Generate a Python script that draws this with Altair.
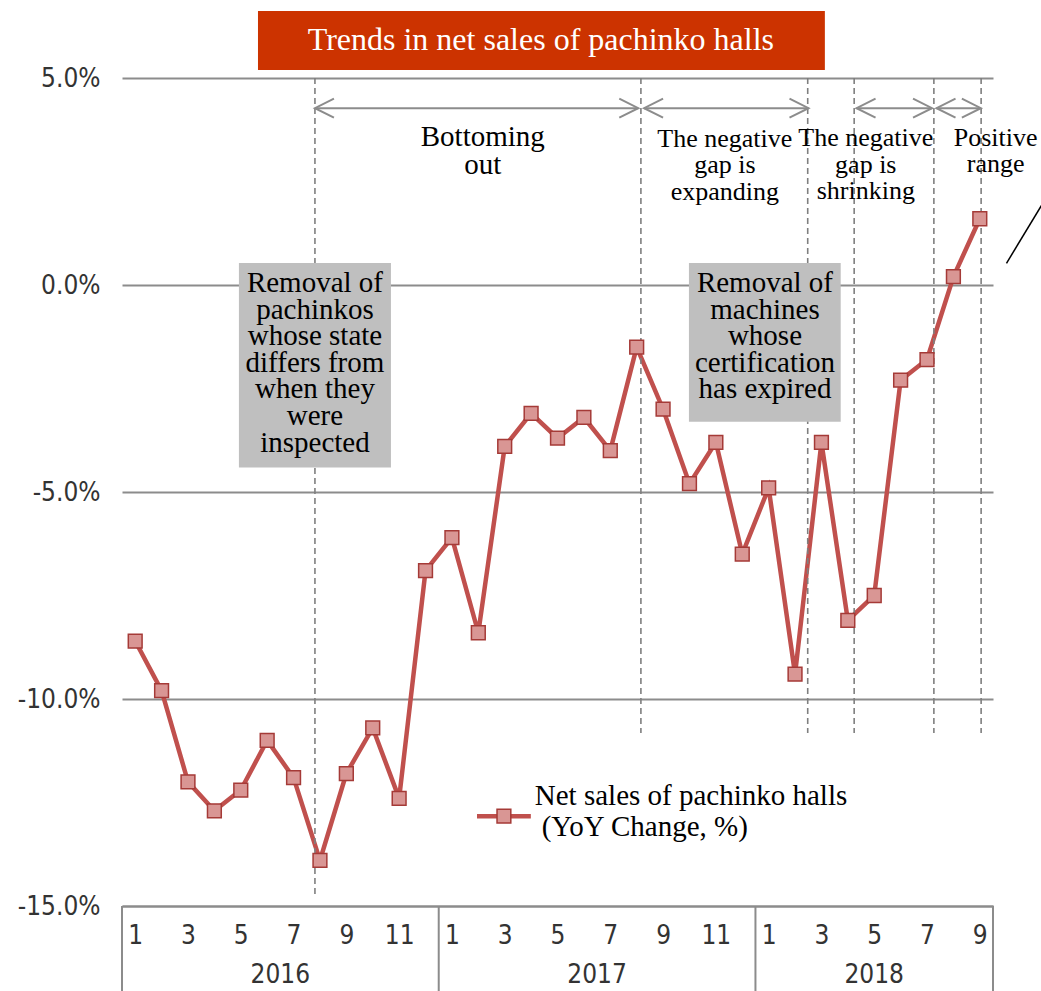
import altair as alt
import pandas as pd

# ---------------- data ----------------
years = [2016] * 12 + [2017] * 12 + [2018] * 9
months = list(range(1, 13)) + list(range(1, 13)) + list(range(1, 10))
values = [-8.6, -9.8, -12.0, -12.7, -12.2, -11.0, -11.9, -13.9, -11.8, -10.7, -12.4, -6.9,
          -6.1, -8.4, -3.9, -3.1, -3.7, -3.2, -4.0, -1.5, -3.0, -4.8, -3.8, -6.5,
          -4.9, -9.4, -3.8, -8.1, -7.5, -2.3, -1.8, 0.2, 1.6]
year_labels = ["2016", "2017", "2018"]
year_centers = [6.0, 18.0, 28.5]
year_bounds = [0, 12, 24, 33]
month_tick_pos = [0.5, 2.5, 4.5, 6.5, 8.5, 10.5, 12.5, 14.5, 16.5, 18.5, 20.5, 22.5,
                  24.5, 26.5, 28.5, 30.5, 32.5]
y_ticks = [-15, -10, -5, 0, 5]

# phase markers (dashed lines) and arrows
dash_x = [7.31, 19.66, 25.98, 27.74, 30.76, 32.55]
dash_top = [5.0] * 6
dash_bottom = [-14.73, -10.82, -10.82, -10.82, -10.82, -10.82]
arrow_start = [7.31, 19.78, 27.83, 30.86]
arrow_end = [19.56, 26.01, 30.69, 32.54]
arrow_y = 4.27

phase_labels = ["Bottoming\nout",
                "The negative\ngap is\nexpanding",
                "The negative\ngap is\nshrinking",
                "Positive\nrange"]
phase_x = [13.67, 22.84, 28.18, 33.1]
phase_y = [3.365, 3.341, 3.357, 3.365]

box_labels = ["Removal of\npachinkos\nwhose state\ndiffers from\nwhen they\nwere\ninspected",
              "Removal of\nmachines\nwhose\ncertification\nhas expired"]
box_x1 = [4.43, 21.48]
box_x2 = [10.19, 27.23]
box_y1 = [0.531, 0.531]
box_y2 = [-4.408, -3.302]
box_text_x = [7.31, 24.36]
box_text_y = [-0.17, -0.17]

title_text = "Trends in net sales of pachinko halls"
legend_lines = ["Net sales of pachinko halls", "(YoY Change, %)"]
legend_line_x = [15.64, 15.9]
legend_line_y = [-12.56, -13.3]

# ---------------- frames ----------------
df = pd.DataFrame({"year": years, "month": months, "value": values})
df["pos"] = [i + 0.5 for i in range(len(df))]

xs = alt.Scale(domain=[0, 33], nice=False, zero=False)
ys = alt.Scale(domain=[-15, 5], nice=False, zero=False)

SANS = "Liberation Sans Narrow, DejaVu Sans Condensed, sans-serif"
SERIF = "Liberation Serif, Times New Roman, serif"

xaxis = alt.Axis(values=month_tick_pos, labelExpr="(floor(datum.value) % 12) + 1",
                 labelFont=SANS, labelFontSize=26, labelColor="#333333",
                 domain=True, domainColor="#8c8c8c", domainWidth=2,
                 ticks=False, grid=False, labelPadding=16, title=None,
                 labelFlush=False, labelOverlap=False)
yaxis = alt.Axis(values=y_ticks,
                 labelExpr="(datum.value < 0 ? '-' : '') + format(abs(datum.value), '.1f') + '%'",
                 labelFont=SANS, labelFontSize=26, labelColor="#333333",
                 domain=False, ticks=False, grid=True, gridColor="#8c8c8c", gridWidth=2,
                 labelPadding=22, title=None)


def X(f):
    return alt.X(f, scale=xs, axis=xaxis, title=None)


def Y(f):
    return alt.Y(f, scale=ys, axis=yaxis, title=None)


dash_df = pd.DataFrame({"x": dash_x, "y": dash_top, "y2": dash_bottom})
dashes = alt.Chart(dash_df).mark_rule(color="#7f7f7f", strokeDash=[6, 4], strokeWidth=1.6).encode(
    x=X("x:Q"), y=Y("y:Q"), y2="y2:Q")

arr_df = pd.DataFrame({"x": arrow_start, "x2": arrow_end, "y": [arrow_y] * len(arrow_start)})
arrows = alt.Chart(arr_df).mark_rule(color="#8c8c8c", strokeWidth=2).encode(
    x=X("x:Q"), x2="x2:Q", y=Y("y:Q"))
heads_r = alt.Chart(arr_df).mark_point(shape="M-2,-1L0,0L-2,1", filled=False, stroke="#8c8c8c",
                                       strokeWidth=2, size=361, opacity=1).encode(
    x=X("x2:Q"), y=Y("y:Q"))
heads_l = alt.Chart(arr_df).mark_point(shape="M2,-1L0,0L2,1", filled=False, stroke="#8c8c8c",
                                       strokeWidth=2, size=361, opacity=1).encode(
    x=X("x:Q"), y=Y("y:Q"))

ph_df = pd.DataFrame({"label": phase_labels, "x": phase_x, "y": phase_y})
phase_big = alt.Chart(ph_df.iloc[[0]]).mark_text(font=SERIF, fontSize=29, lineHeight=28, align="center",
                                                 baseline="alphabetic", lineBreak="\n", color="#000000").encode(
    x=X("x:Q"), y=Y("y:Q"), text="label:N")
phase_small = alt.Chart(ph_df.iloc[1:]).mark_text(font=SERIF, fontSize=26, lineHeight=26.5, align="center",
                                                  baseline="alphabetic", lineBreak="\n", color="#000000").encode(
    x=X("x:Q"), y=Y("y:Q"), text="label:N")

box_df = pd.DataFrame({"label": box_labels, "x1": box_x1, "x2": box_x2, "y1": box_y1, "y2": box_y2,
                       "tx": box_text_x, "ty": box_text_y})
boxes = alt.Chart(box_df).mark_rect(color="#BFBFBF").encode(
    x=X("x1:Q"), x2="x2:Q", y=Y("y1:Q"), y2="y2:Q")
box_text = alt.Chart(box_df).mark_text(font=SERIF, fontSize=29, lineHeight=26.6, align="center",
                                       baseline="alphabetic", lineBreak="\n", color="#000000").encode(
    x=X("tx:Q"), y=Y("ty:Q"), text="label:N")

line = alt.Chart(df).mark_line(color="#C0504D", strokeWidth=4.5).encode(
    x=X("pos:Q"), y=Y("value:Q"))
pts = alt.Chart(df).mark_square(fill="#D99694", stroke="#A53A37", strokeWidth=1.5, size=190,
                                opacity=1).encode(x=X("pos:Q"), y=Y("value:Q"))

# x-axis box: year separators and year labels
yb_df = pd.DataFrame({"x": year_bounds, "y": [-15] * 4, "y2": [-17.3] * 4})
ybounds = alt.Chart(yb_df).mark_rule(color="#8c8c8c", strokeWidth=2).encode(
    x=X("x:Q"), y=Y("y:Q"), y2="y2:Q")
yl_df = pd.DataFrame({"label": year_labels, "x": year_centers, "y": [-16.67] * 3})
ylabels = alt.Chart(yl_df).mark_text(font=SANS, fontSize=26, color="#333333", align="center",
                                     baseline="middle").encode(x=X("x:Q"), y=Y("y:Q"), text="label:N")

# legend
leg_line_df = pd.DataFrame({"x": [13.45], "x2": [15.49], "y": [-12.83]})
leg_line = alt.Chart(leg_line_df).mark_rule(color="#C0504D", strokeWidth=4.5).encode(
    x=X("x:Q"), x2="x2:Q", y=Y("y:Q"))
leg_pt_df = pd.DataFrame({"x": [14.47], "y": [-12.83]})
leg_pt = alt.Chart(leg_pt_df).mark_square(fill="#D99694", stroke="#A53A37", strokeWidth=1.5, size=190,
                                          opacity=1).encode(x=X("x:Q"), y=Y("y:Q"))
leg_txt_df = pd.DataFrame({"label": legend_lines, "x": legend_line_x, "y": legend_line_y})
leg_txt = alt.Chart(leg_txt_df).mark_text(font=SERIF, fontSize=29, align="left",
                                          baseline="alphabetic", color="#000000").encode(
    x=X("x:Q"), y=Y("y:Q"), text="label:N")

# title banner
tb_df = pd.DataFrame({"x1": [5.152], "x2": [26.63], "y1": [6.618], "y2": [5.193],
                      "label": [title_text], "tx": [15.87], "ty": [5.906]})
tbox = alt.Chart(tb_df).mark_rect(color="#CC3300").encode(
    x=X("x1:Q"), x2="x2:Q", y=Y("y1:Q"), y2="y2:Q")
ttext = alt.Chart(tb_df).mark_text(font=SERIF, fontSize=32, color="#FFFFFF", align="center",
                                   baseline="middle").encode(x=X("tx:Q"), y=Y("ty:Q"), text="label:N")

# pointer line at right edge
ptr_df = pd.DataFrame({"x": [33.51], "y": [0.524], "x2": [35.53], "y2": [2.65]})
ptr = alt.Chart(ptr_df).mark_rule(color="#000000", strokeWidth=1.5).encode(
    x=X("x:Q"), y=Y("y:Q"), x2="x2:Q", y2="y2:Q")

chart = alt.layer(
    line, dashes, arrows, heads_r, heads_l, boxes, box_text, phase_big, phase_small,
    ybounds, ylabels, ptr, leg_line, leg_pt, leg_txt, tbox, ttext, pts
).properties(
    width=871, height=828,
    autosize=alt.AutoSizeParams(type="none"),
    padding={"left": 122, "top": 78, "right": 48, "bottom": 85},
    background="#FFFFFF",
).configure_view(stroke=None)

chart.save("out.html", embed_options={"renderer": "svg", "actions": False})
